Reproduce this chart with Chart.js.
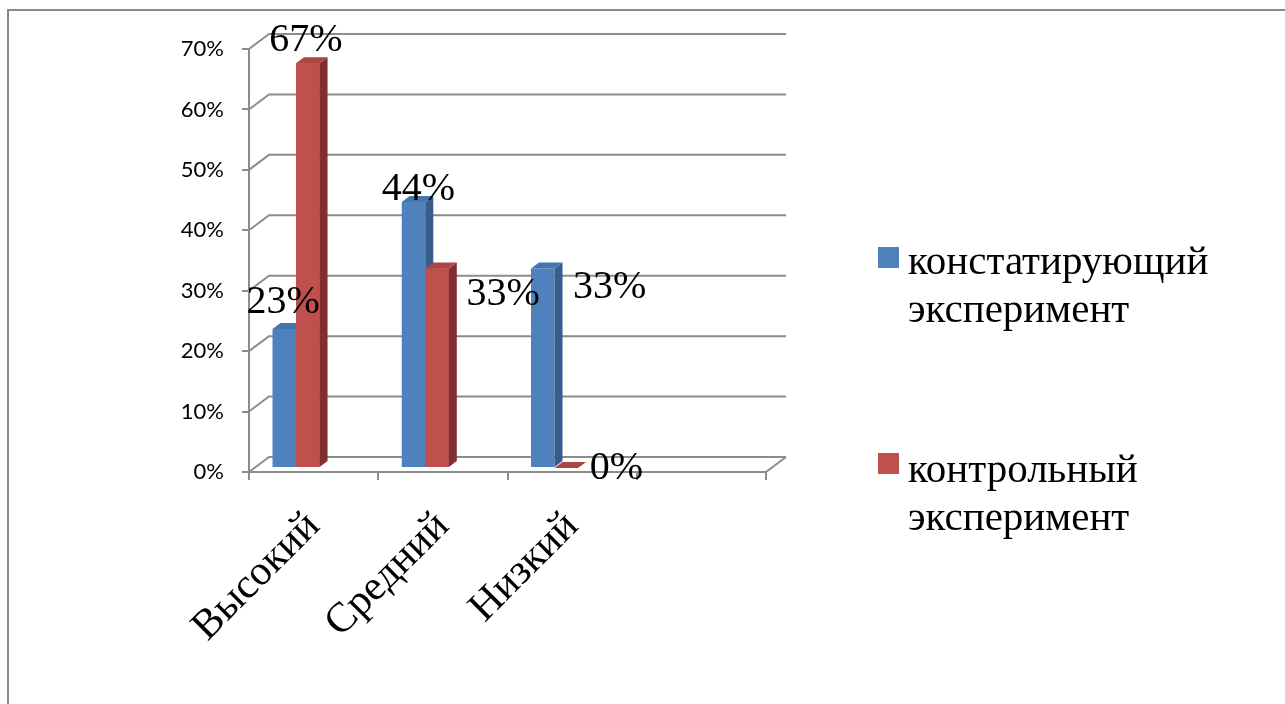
<!DOCTYPE html>
<html>
<head>
<meta charset="utf-8">
<script src="https://cdn.jsdelivr.net/npm/chart.js@4/dist/chart.umd.min.js"></script>
<style>
  html, body { margin: 0; padding: 0; background: #fff; overflow: hidden; }
  #wrap { position: relative; width: 1285px; height: 704px; overflow: hidden; }
  #frame { position: absolute; left: 7px; top: 9px; width: 1400px; height: 800px;
           border-top: 2px solid #8a8a8a; border-left: 2px solid #8a8a8a; }
  #chart { position: absolute; left: 0; top: 0; }
  .leg { position: absolute; left: 878px; font-family: "Liberation Serif", "Times New Roman", serif;
         font-size: 41px; line-height: 48px; color: #000; }
  .leg .sw { position: absolute; left: 0; width: 21px; height: 21px; }
  .leg .txt { position: absolute; left: 30px; white-space: nowrap; }
</style>
</head>
<body>
<div id="wrap">
  <div id="frame"></div>
  <canvas id="chart" width="1285" height="704"></canvas>
  <div id="legend"></div>
</div>
<script>
// data
const categories = ['Высокий', 'Средний', 'Низкий', ''];
const constatValues = [23, 44, 33, null];
const controlValues = [67, 33, 0, null];
const seriesNames = [['констатирующий', 'эксперимент'], ['контрольный', 'эксперимент']];
const yMax = 70;
const yStep = 10;

// looks
const FRONT = ['#4f81bd', '#c0504d'];
const SIDE  = ['#385d8a', '#7f2f2d'];
const TOP   = ['#4475ae', '#ad4542'];
const GRID = '#8c8c8c';
// data label nudges, relative to the bar top (px)
const labelNudge = [
  [[-1, -27], [5, -13], [67, 19]],
  [[-2, -23], [66, 26], [50, 0]]
];
const DEPTH_X = 8, DEPTH_Y = -6;     // bar extrusion
const SHIFT_X = -17.6, SHIFT_Y = -4; // bars sit a bit back from the front axis
const WALL_X = 20, WALL_Y = -15;     // back wall offset

function poly(ctx, pts, fill) {
  ctx.beginPath();
  ctx.moveTo(pts[0][0], pts[0][1]);
  pts.slice(1).forEach(p => ctx.lineTo(p[0], p[1]));
  ctx.closePath();
  ctx.fillStyle = fill;
  ctx.fill();
}

function faces(ctx, el, i) {
  const l = el.x - el.width / 2, r = el.x + el.width / 2, t = el.y, b = el.base;
  poly(ctx, [[r, t], [r + DEPTH_X, t + DEPTH_Y], [r + DEPTH_X, b + DEPTH_Y], [r, b]], SIDE[i]);
  poly(ctx, [[l, t], [l + DEPTH_X, t + DEPTH_Y], [r + DEPTH_X, t + DEPTH_Y], [r, t]], TOP[i]);
}

const bar3d = {
  id: 'bar3d',
  beforeDatasetsDraw(chart) {
    const { ctx, chartArea: a, scales: { y } } = chart;
    ctx.save();
    ctx.strokeStyle = GRID;
    ctx.lineWidth = 2;
    y.ticks.forEach(t => {
      const py = y.getPixelForValue(t.value);
      ctx.beginPath();
      ctx.moveTo(a.left, py);
      ctx.lineTo(a.left + WALL_X, py + WALL_Y);
      ctx.lineTo(a.right + WALL_X, py + WALL_Y);
      ctx.stroke();
    });
    ctx.beginPath();
    ctx.moveTo(a.right, a.bottom);
    ctx.lineTo(a.right + WALL_X, a.bottom + WALL_Y);
    ctx.stroke();
    ctx.restore();
  },
  beforeDatasetDraw(chart) {
    chart.ctx.save();
    chart.ctx.translate(SHIFT_X, SHIFT_Y);
  },
  afterDatasetDraw(chart) {
    chart.ctx.restore();
  },
  afterDatasetsDraw(chart) {
    const ctx = chart.ctx;
    ctx.save();
    ctx.translate(SHIFT_X, SHIFT_Y);
    // extrusion, left series first; right series front redrawn so it sits over the left one's side
    chart.data.datasets.forEach((ds, i) => {
      chart.getDatasetMeta(i).data.forEach((el, j) => {
        if (ds.data[j] == null) return;
        if (i > 0) el.draw(ctx);
        faces(ctx, el, i);
      });
    });
    ctx.font = '40px "Liberation Serif", "Times New Roman", serif';
    ctx.fillStyle = '#000';
    ctx.textAlign = 'center';
    ctx.textBaseline = 'middle';
    chart.data.datasets.forEach((ds, i) => {
      chart.getDatasetMeta(i).data.forEach((el, j) => {
        if (ds.data[j] == null) return;
        const n = labelNudge[i][j];
        ctx.fillText(ds.data[j] + '%', el.x + n[0], el.y + n[1]);
      });
    });
    ctx.restore();
  }
};

new Chart(document.getElementById('chart'), {
  type: 'bar',
  data: {
    labels: categories,
    datasets: [
      { label: seriesNames[0].join(' '), data: constatValues, backgroundColor: FRONT[0],
        categoryPercentage: 0.364, barPercentage: 1, clip: false },
      { label: seriesNames[1].join(' '), data: controlValues, backgroundColor: FRONT[1],
        categoryPercentage: 0.364, barPercentage: 1, clip: false }
    ]
  },
  options: {
    responsive: false,
    animation: false,
    events: [],
    layout: { padding: { left: 149, top: 49, right: 519, bottom: 0 } },
    plugins: { legend: { display: false }, tooltip: { enabled: false } },
    scales: {
      x: {
        offset: true,
        afterFit: s => { s.height = 232; },
        grid: { offset: true, drawOnChartArea: false, drawTicks: true, tickLength: 8, color: GRID, lineWidth: 2 },
        border: { display: true, color: GRID, width: 2 },
        ticks: {
          minRotation: 45, maxRotation: 45, padding: 22, color: '#000',
          font: { family: '"Liberation Serif", "Times New Roman", serif', size: 42 }
        }
      },
      y: {
        min: 0, max: yMax,
        afterFit: s => { s.width = 100; },
        grid: { drawOnChartArea: false, drawTicks: true, tickLength: 7, color: GRID, lineWidth: 2 },
        border: { display: true, color: GRID, width: 2 },
        ticks: {
          stepSize: yStep, padding: 18, color: '#000',
          font: { family: 'Lato, "Open Sans", sans-serif', size: 22 },
          callback: v => v + '%'
        }
      }
    }
  },
  plugins: [bar3d]
});

// legend (two-line names, like the original)
const legendTops = [[247, 236], [453, 444]];
document.getElementById('legend').innerHTML = seriesNames.map((lines, i) => `
  <div class="leg" style="top:0">
    <div class="sw" style="top:${legendTops[i][0]}px;background:${FRONT[i]}"></div>
    <div class="txt" style="top:${legendTops[i][1]}px">${lines.join('<br>')}</div>
  </div>`).join('');
</script>
</body>
</html>
